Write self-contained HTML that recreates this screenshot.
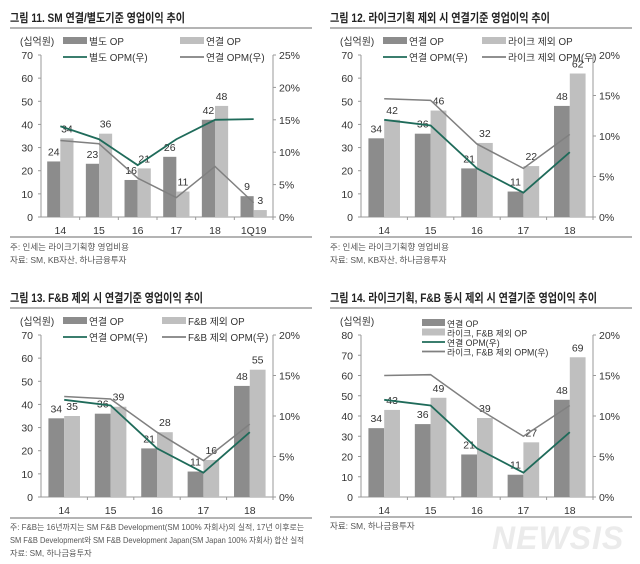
<!DOCTYPE html>
<html><head><meta charset="utf-8">
<style>
body{margin:0;background:#fff;}
svg{display:block;font-family:"Liberation Sans","Noto Sans CJK KR",sans-serif;}
</style></head>
<body>
<svg id="s" width="640" height="564" viewBox="0 0 640 564" xmlns="http://www.w3.org/2000/svg">
<g>
<text x="10" y="22" font-size="12" font-weight="bold" fill="#222" textLength="175" lengthAdjust="spacingAndGlyphs">그림 11. SM 연결/별도기준 영업이익 추이</text>
<line x1="10" y1="28" x2="312" y2="28" stroke="#888" stroke-width="1.2"/>
<line x1="10" y1="237" x2="312" y2="237" stroke="#888" stroke-width="1.2"/>
<text x="10" y="250" font-size="8.5" fill="#555">주: 인세는 라이크기획향 영업비용</text>
<text x="10" y="263" font-size="8.5" fill="#555">자료: SM, KB자산, 하나금융투자</text>
</g>
<g>
<text x="330" y="22" font-size="12" font-weight="bold" fill="#222" textLength="220" lengthAdjust="spacingAndGlyphs">그림 12. 라이크기획 제외 시 연결기준 영업이익 추이</text>
<line x1="330" y1="28" x2="632" y2="28" stroke="#888" stroke-width="1.2"/>
<line x1="330" y1="237" x2="632" y2="237" stroke="#888" stroke-width="1.2"/>
<text x="330" y="250" font-size="8.5" fill="#555">주: 인세는 라이크기획향 영업비용</text>
<text x="330" y="263" font-size="8.5" fill="#555">자료: SM, KB자산, 하나금융투자</text>
</g>
<g>
<text x="10" y="302" font-size="12" font-weight="bold" fill="#222" textLength="193" lengthAdjust="spacingAndGlyphs">그림 13. F&amp;B 제외 시 연결기준 영업이익 추이</text>
<line x1="10" y1="308" x2="312" y2="308" stroke="#888" stroke-width="1.2"/>
<line x1="10" y1="518" x2="312" y2="518" stroke="#888" stroke-width="1.2"/>
<text x="10" y="530" font-size="8.2" fill="#555" textLength="294" lengthAdjust="spacingAndGlyphs">주: F&amp;B는 16년까지는 SM F&amp;B Development(SM 100% 자회사)의 실적, 17년 이후로는</text>
<text x="10" y="543" font-size="8.2" fill="#555" textLength="294" lengthAdjust="spacingAndGlyphs">SM F&amp;B Development와 SM F&amp;B Development Japan(SM Japan 100% 자회사) 합산 실적</text>
<text x="10" y="556" font-size="8.2" fill="#555">자료: SM, 하나금융투자</text>
</g>
<g>
<text x="330" y="302" font-size="12" font-weight="bold" fill="#222" textLength="267" lengthAdjust="spacingAndGlyphs">그림 14. 라이크기획, F&amp;B 동시 제외 시 연결기준 영업이익 추이</text>
<line x1="330" y1="308" x2="632" y2="308" stroke="#888" stroke-width="1.2"/>
<line x1="330" y1="517" x2="632" y2="517" stroke="#888" stroke-width="1.2"/>
<text x="330" y="529" font-size="8.5" fill="#555">자료: SM, 하나금융투자</text>
<text x="492" y="549" font-size="32" font-weight="bold" font-style="italic" fill="#ebebeb" letter-spacing="1">NEWSIS</text>
</g>
</svg>
<script>
// Chart 11
const c11Categories=["14","15","16","17","18","1Q19"];
const c11Dark=[24,23,16,26,42,9];
const c11Light=[34,36,21,11,48,3];
const c11DarkOpm=[14,12,8,12,15,15.1];
const c11LightOpm=[11.8,11.3,6,3,7.8,2.2];
const c11LeftTicks=[0,10,20,30,40,50,60,70];
const c11RightTicks=[0,5,10,15,20,25];
// Chart 12
const c12Categories=["14","15","16","17","18"];
const c12Dark=[34,36,21,11,48];
const c12Light=[42,46,32,22,62];
const c12DarkOpm=[12,11.3,6,3,8];
const c12LightOpm=[14.6,14.4,9,6,10.2];
const c12LeftTicks=[0,10,20,30,40,50,60,70];
const c12RightTicks=[0,5,10,15,20];
// Chart 13
const c13Categories=["14","15","16","17","18"];
const c13Dark=[34,36,21,11,48];
const c13Light=[35,39,28,16,55];
const c13DarkOpm=[12,11.3,6,3,8];
const c13LightOpm=[12.4,12.1,8,4.5,9];
const c13LeftTicks=[0,10,20,30,40,50,60,70];
const c13RightTicks=[0,5,10,15,20];
// Chart 14
const c14Categories=["14","15","16","17","18"];
const c14Dark=[34,36,21,11,48];
const c14Light=[43,49,39,27,69];
const c14DarkOpm=[12,11.3,6,3,8];
const c14LightOpm=[15,15.1,11,7.5,11.3];
const c14LeftTicks=[0,10,20,30,40,50,60,70,80];
const c14RightTicks=[0,5,10,15,20];

const NS="http://www.w3.org/2000/svg";
const svg=document.getElementById('s');
function mk(tag,attrs,parent,txt){const e=document.createElementNS(NS,tag);for(const k in attrs)e.setAttribute(k,attrs[k]);if(txt!==undefined)e.textContent=txt;parent.appendChild(e);return e;}

function chart(id,ox,oy,cats,dark,light,dOpm,lOpm,lt,rt,labels,legendMode,col2){
  const g=mk('g',{},svg);
  
  
  const L=ox+41,R=ox+273,T=oy+55,B=oy+217;
  const lMax=lt[lt.length-1],rMax=rt[rt.length-1];
  const yL=v=>B-(v/lMax)*(B-T);
  const yR=v=>B-(v/rMax)*(B-T);
  const bw=(R-L)/cats.length;
  const xc=i=>L+bw*(i+0.5);
  const barW=bw*0.34;
  mk('line',{x1:L,y1:T,x2:L,y2:B,stroke:'#999'},g);
  mk('line',{x1:R,y1:T,x2:R,y2:B,stroke:'#999'},g);
  mk('line',{x1:L,y1:B,x2:R,y2:B,stroke:'#999'},g);
  lt.forEach(v=>{const y=yL(v);mk('line',{x1:L-3,y1:y,x2:L,y2:y,stroke:'#999'},g);
    const t=mk('text',{x:L-8,y:y+4,'font-size':10.5,'text-anchor':'end',fill:'#333'},g,String(v));
    
    });
  rt.forEach(v=>{const y=yR(v);mk('line',{x1:R,y1:y,x2:R+3,y2:y,stroke:'#999'},g);
    const t=mk('text',{x:R+6,y:y+4,'font-size':10.5,fill:'#333'},g,v+'%');
    
    });
  mk('text',{x:ox+20,y:oy+45,'font-size':10,fill:'#333'},g,'(십억원)');
  cats.forEach((c,i)=>{
    const t=mk('text',{x:xc(i),y:B+17,'font-size':10.5,'text-anchor':'middle',fill:'#333'},g,c);
    
    
    mk('line',{x1:L+bw*(i+1),y1:B,x2:L+bw*(i+1),y2:B+3,stroke:'#999'},g);
    const b1=mk('rect',{x:xc(i)-barW,y:yL(dark[i]),width:barW,height:B-yL(dark[i]),fill:'#8c8c8c'},g);
    
    
    const b2=mk('rect',{x:xc(i),y:yL(light[i]),width:barW,height:B-yL(light[i]),fill:'#bfbfbf'},g);
    
    
    const v1=mk('text',{x:xc(i)-barW/2,y:yL(dark[i])-6,'font-size':10.5,'text-anchor':'middle',fill:'#333'},g,String(dark[i]));
    
    
    const v2=mk('text',{x:xc(i)+barW/2,y:yL(light[i])-6,'font-size':10.5,'text-anchor':'middle',fill:'#333'},g,String(light[i]));
    
    
  });
  const p1=mk('polyline',{points:dOpm.map((v,i)=>xc(i)+','+yR(v)).join(' '),fill:'none',stroke:'#1f6b5a','stroke-width':1.8},g);
  
  
  const p2=mk('polyline',{points:lOpm.map((v,i)=>xc(i)+','+yR(v)).join(' '),fill:'none',stroke:'#808080','stroke-width':1.5},g);
  
  
  const items=[['rect','#8c8c8c',labels[0]],['rect','#bfbfbf',labels[1]],['line','#1f6b5a',labels[2]],['line','#808080',labels[3]]];
  items.forEach((it,k)=>{
    let x,y;
    if(legendMode==='grid'){x=ox+(k%2===0?63:col2);y=oy+(k<2?41:57);}
    else{x=ox+102;y=oy+43+k*9.5;}
    const lg=mk('g',{},g);
    
    
    const sw=legendMode==='grid'?24:23;
    if(it[0]==='rect')mk('rect',{x:x,y:y-4,width:sw,height:7,fill:it[1]},lg);
    else mk('line',{x1:x,y1:y,x2:x+sw,y2:y,stroke:it[1],'stroke-width':1.8},lg);
    mk('text',{x:x+sw+2,y:y+4,'font-size':legendMode==='grid'?9.8:8.8,fill:'#333'},lg,it[2]);
  });
}
chart('chart-11',0,0,c11Categories,c11Dark,c11Light,c11DarkOpm,c11LightOpm,c11LeftTicks,c11RightTicks,['별도 OP','연결 OP','별도 OPM(우)','연결 OPM(우)'],'grid',180);
chart('chart-12',320,0,c12Categories,c12Dark,c12Light,c12DarkOpm,c12LightOpm,c12LeftTicks,c12RightTicks,['연결 OP','라이크 제외 OP','연결 OPM(우)','라이크 제외 OPM(우)'],'grid',162);
chart('chart-13',0,280,c13Categories,c13Dark,c13Light,c13DarkOpm,c13LightOpm,c13LeftTicks,c13RightTicks,['연결 OP','F&B 제외 OP','연결 OPM(우)','F&B 제외 OPM(우)'],'grid',162);
chart('chart-14',320,280,c14Categories,c14Dark,c14Light,c14DarkOpm,c14LightOpm,c14LeftTicks,c14RightTicks,['연결 OP','라이크, F&B 제외 OP','연결 OPM(우)','라이크, F&B 제외 OPM(우)'],'stack',0);
</script>
</body></html>
